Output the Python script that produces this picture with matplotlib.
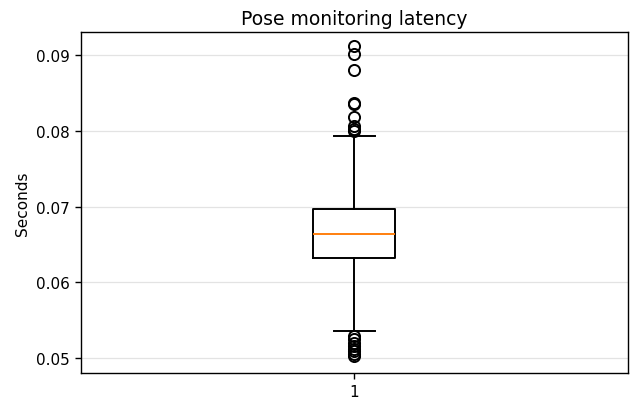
import matplotlib
matplotlib.use("Agg")
import matplotlib.pyplot as plt

# Box statistics
label = "1"
median = 0.06635
q1 = 0.06325
q3 = 0.06970
whisker_low = 0.05365
whisker_high = 0.07930
outliers_high = [0.09116, 0.09015, 0.08807, 0.08368, 0.08350, 0.08180, 0.08065, 0.08026, 0.07995]
outliers_low = [0.05290, 0.05250, 0.05200, 0.05160, 0.05120, 0.05090, 0.05060, 0.05030]

stats = [dict(label=label, med=median, q1=q1, q3=q3,
              whislo=whisker_low, whishi=whisker_high,
              fliers=outliers_high + outliers_low)]

lw = 1.4
fig = plt.figure(figsize=(6.33, 4.02), dpi=100)
ax = fig.add_axes([0.128, 0.070, 0.864, 0.848])
ax.bxp(stats, positions=[1], widths=0.15,
       boxprops=dict(linewidth=lw),
       whiskerprops=dict(linewidth=lw),
       capprops=dict(linewidth=lw),
       medianprops=dict(linewidth=lw, color="#ff7f0e"),
       flierprops=dict(marker="o", markersize=8, markeredgewidth=1.4,
                       markerfacecolor="none", markeredgecolor="black"))
ax.set_xlim(0.5, 1.5)
ax.set_ylim(0.04806, 0.09305)
ax.set_yticks([0.05, 0.06, 0.07, 0.08, 0.09])
ax.yaxis.grid(True, color="#dddddd", linewidth=0.9, alpha=0.8)
ax.set_axisbelow(True)
for s in ax.spines.values():
    s.set_linewidth(1.0)
ax.set_title("Pose monitoring latency", fontsize=13.5)
ax.set_ylabel("Seconds", fontsize=11)
ax.tick_params(labelsize=11, length=4.5, width=1.0)
fig.savefig("out.png", dpi=100)
